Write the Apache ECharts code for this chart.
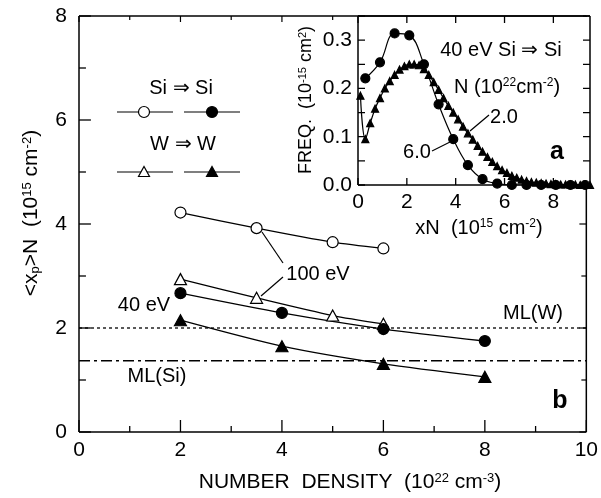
<!DOCTYPE html>
<html><head><meta charset="utf-8">
<script src="https://cdn.jsdelivr.net/npm/echarts@6/dist/echarts.min.js"></script>
<style>html,body{margin:0;padding:0;background:#fff}#c{width:601px;height:498px;background:#fff}</style>
</head><body><div id="c"></div>
<script>
const FONT = '"Liberation Sans", Arial, sans-serif';

// ---- panel b (main) ----
const densitySi100 = [2, 3.5, 5, 6];
const valuesSi100 = [4.22, 3.92, 3.65, 3.53];
const densityW100 = [2, 3.5, 5, 6];
const valuesW100 = [2.94, 2.58, 2.24, 2.08];
const densitySi40 = [2, 4, 6, 8];
const valuesSi40 = [2.67, 2.29, 1.98, 1.75];
const densityW40 = [2, 4, 6, 8];
const valuesW40 = [2.15, 1.65, 1.31, 1.06];
const mlW = 2.0;
const mlSi = 1.37;
const mainXRange = [0, 10];
const mainYRange = [0, 8];
const mainXMajor = [0, 2, 4, 6, 8, 10];
const mainXMinor = [1, 3, 5, 7, 9];
const mainYMajor = [0, 2, 4, 6, 8];
const mainYMinor = [1, 3, 5, 7];

// ---- panel a (inset) ----
const xnN6 = [0.3, 0.9, 1.5, 2.1, 2.7, 3.3, 3.9, 4.5, 5.1, 5.7, 6.3, 6.9, 7.5, 8.1, 8.7, 9.3];
const freqN6 = [0.221, 0.254, 0.314, 0.31, 0.25, 0.167, 0.095, 0.041, 0.012, 0.003, 0, 0, 0, 0, 0, 0];
const xnN2 = [0.1, 0.3, 0.5, 0.7, 0.9, 1.1, 1.3, 1.5, 1.7, 1.9, 2.1, 2.3, 2.5, 2.7, 2.9, 3.1, 3.3, 3.5, 3.7, 3.9,
  4.1, 4.3, 4.5, 4.7, 4.9, 5.1, 5.3, 5.5, 5.7, 5.9, 6.1, 6.3, 6.5, 6.7, 6.9, 7.1, 7.3, 7.5, 7.7, 7.9,
  8.1, 8.3, 8.5, 8.7, 8.9, 9.1, 9.3, 9.5];
const freqN2 = [0.185, 0.095, 0.128, 0.158, 0.18, 0.2, 0.215, 0.228, 0.239, 0.246, 0.25, 0.25, 0.248, 0.24, 0.228, 0.213, 0.197, 0.18, 0.164, 0.15,
  0.136, 0.121, 0.107, 0.094, 0.081, 0.069, 0.058, 0.048, 0.039, 0.031, 0.025, 0.019, 0.015, 0.011, 0.008, 0.006, 0.005, 0.004, 0.003, 0.002,
  0.002, 0.001, 0.001, 0.001, 0.001, 0, 0, 0];
const insetXRange = [0, 9.5];
const insetYRange = [0, 0.35];
const insetXTicks = [0, 2, 4, 6, 8];
const insetYTicks = [0, 0.05, 0.1, 0.15, 0.2, 0.25, 0.3, 0.35];
const insetYTickValues = [0, 0.1, 0.2, 0.3];
const insetYTickLabels = ['0.0', '0.1', '0.2', '0.3'];
const insetXTickValues = [0, 2, 4, 6, 8];
const insetXTickLabels = ['0', '2', '4', '6', '8'];

// grid geometry (pixels)
const MAIN = { left: 79, top: 16, width: 511, height: 416 };
const INSET = { left: 358, top: 16, width: 232, height: 169 };

const pairs = (xs, ys) => xs.map((x, i) => [x, ys[i]]);
const pick = (vals, labels) => v => {
  const i = vals.findIndex(t => Math.abs(t - v) < 1e-6);
  return i >= 0 ? labels[i] : '';
};
const richBase = (fs) => ({
  t: { fontSize: fs, fontFamily: FONT, color: '#000' },
  sup: { fontSize: Math.round(fs * 0.6), fontFamily: FONT, color: '#000', verticalAlign: 'top' },
  sub: { fontSize: Math.round(fs * 0.6), fontFamily: FONT, color: '#000', verticalAlign: 'bottom' }
});
const black = '#000';

function baseAxis(gridIndex, extra) {
  return Object.assign({
    gridIndex, type: 'value', splitLine: { show: false },
    axisLine: { show: false, onZero: false }, axisTick: { show: false }, minorTick: { show: false },
    axisLabel: { fontSize: 21, fontFamily: FONT, color: black }
  }, extra);
}

// frame & tick segments drawn as line series through the axes' scales
const frameSeries = [];
function seg(g, a, b, w, z) {
  frameSeries.push({
    type: 'line', data: [a, b], xAxisIndex: g === 0 ? 0 : 2, yAxisIndex: g === 0 ? 0 : 2,
    symbol: 'none', silent: true, clip: false, animation: false, z: z,
    lineStyle: { color: black, width: w }
  });
}
(function buildFrames() {
  const mx = (mainXRange[1] - mainXRange[0]) / MAIN.width;   // units per px
  const my = (mainYRange[1] - mainYRange[0]) / MAIN.height;
  const ix = (insetXRange[1] - insetXRange[0]) / INSET.width;
  const iy = (insetYRange[1] - insetYRange[0]) / INSET.height;
  const x0 = mainXRange[0], x1 = mainXRange[1], y0 = mainYRange[0], y1 = mainYRange[1];
  const insetStartX = x0 + (INSET.left - MAIN.left) * mx;
  const insetBottomY = y1 - (INSET.height + 2) * my;
  // main frame
  seg(0, [x0, y0], [x1, y0], 1.5, 4); seg(0, [x0, y0], [x0, y1], 1.5, 4);
  seg(0, [x0, y1], [x1, y1], 1.5, 4); seg(0, [x1, y0], [x1, y1], 1.5, 4);
  // main bottom & top ticks
  mainXMajor.forEach(v => { seg(0, [v, y0], [v, y0 + 12 * my], 1.3, 4); if (v < insetStartX) seg(0, [v, y1], [v, y1 - 6 * my], 1.2, 4); });
  mainXMinor.forEach(v => { seg(0, [v, y0], [v, y0 + 6 * my], 1.3, 4); if (v < insetStartX) seg(0, [v, y1], [v, y1 - 4 * my], 1.2, 4); });
  // main left & right ticks
  mainYMajor.forEach(v => { seg(0, [x0, v], [x0 + 12 * mx, v], 1.3, 4); if (v < insetBottomY) seg(0, [x1, v], [x1 - 7 * mx, v], 1.2, 4); });
  mainYMinor.forEach(v => { seg(0, [x0, v], [x0 + 7 * mx, v], 1.3, 4); if (v < insetBottomY) seg(0, [x1, v], [x1 - 5 * mx, v], 1.2, 4); });
  // inset frame
  const a0 = insetXRange[0], a1 = insetXRange[1], b0 = insetYRange[0], b1 = insetYRange[1];
  seg(1, [a0, b0], [a1, b0], 1.5, 14); seg(1, [a0, b0], [a0, b1], 1.5, 14);
  seg(1, [a0, b1], [a1, b1], 1.5, 14); seg(1, [a1, b0], [a1, b1], 1.5, 14);
  insetXTicks.forEach(v => { seg(1, [v, b0], [v, b0 + 7 * iy], 1.3, 14); seg(1, [v, b1], [v, b1 - 7 * iy], 1.3, 14); });
  insetYTicks.forEach(v => { seg(1, [a0, v], [a0 + 7 * ix, v], 1.3, 14); seg(1, [a1, v], [a1 - 7 * ix, v], 1.3, 14); });
})();

function T(x, y, text, fs, extra) {
  extra = extra || {};
  return {
    type: 'text', x: x, y: y, z: 20, rotation: extra.rotation || 0,
    style: Object.assign({
      text: text, fontSize: fs, fontFamily: FONT, fill: black,
      align: 'center', verticalAlign: 'middle', rich: richBase(fs)
    }, extra.style || {})
  };
}
function L(x1, y1, x2, y2) {
  return { type: 'line', z: 20, shape: { x1, y1, x2, y2 }, style: { stroke: black, lineWidth: 1.2 } };
}
function circ(cx, cy, r, filled) {
  return { type: 'circle', z: 21, shape: { cx, cy, r }, style: { fill: filled ? black : '#fff', stroke: black, lineWidth: 1.2 } };
}
function tri(cx, cy, filled) {
  return { type: 'polygon', z: 21, shape: { points: [[cx - 5.5, cy + 4.5], [cx + 5.5, cy + 4.5], [cx, cy - 5.5]] },
    style: { fill: filled ? black : '#fff', stroke: black, lineWidth: 1.2 } };
}

const lineSeries = (name, xs, ys, symbol, filled, size, extra) => Object.assign({
  name, type: 'line', data: pairs(xs, ys), smooth: 0.25,
  symbol, symbolSize: size, showSymbol: true,
  lineStyle: { color: black, width: 1.3 },
  itemStyle: { color: filled ? black : '#fff', borderColor: black, borderWidth: 1.2, opacity: 1 },
  xAxisIndex: 0, yAxisIndex: 0, z: 3, animation: false
}, extra || {});

const option = {
  animation: false,
  grid: [MAIN, INSET],
  xAxis: [
    baseAxis(0, { position: 'bottom', min: mainXRange[0], max: mainXRange[1], interval: 2,
      axisLabel: { fontSize: 21, fontFamily: FONT, color: black, margin: 8 } }),
    baseAxis(0, { position: 'top', min: mainXRange[0], max: mainXRange[1], interval: 2, axisLabel: { show: false } }),
    baseAxis(1, { position: 'bottom', min: insetXRange[0], max: insetXRange[1], interval: 2, z: 10,
      axisLabel: { fontSize: 21, fontFamily: FONT, color: black, margin: 7,
        formatter: pick(insetXTickValues, insetXTickLabels) } }),
    baseAxis(1, { position: 'top', min: insetXRange[0], max: insetXRange[1], interval: 2, axisLabel: { show: false } })
  ],
  yAxis: [
    baseAxis(0, { position: 'left', min: mainYRange[0], max: mainYRange[1], interval: 2,
      axisLabel: { fontSize: 21, fontFamily: FONT, color: black, margin: 12 } }),
    baseAxis(0, { position: 'right', min: mainYRange[0], max: mainYRange[1], interval: 2, axisLabel: { show: false } }),
    baseAxis(1, { position: 'left', min: insetYRange[0], max: insetYRange[1], interval: 0.05, z: 10,
      axisLabel: { fontSize: 21, fontFamily: FONT, color: black, margin: 6,
        formatter: pick(insetYTickValues, insetYTickLabels) } }),
    baseAxis(1, { position: 'right', min: insetYRange[0], max: insetYRange[1], interval: 0.05, axisLabel: { show: false } })
  ],
  series: [
    { name: 'ML(W)', type: 'line', data: pairs(mainXRange, [mlW, mlW]), symbol: 'none', silent: true,
      lineStyle: { color: black, width: 1.3, type: [3, 3] }, xAxisIndex: 0, yAxisIndex: 0, z: 2 },
    { name: 'ML(Si)', type: 'line', data: pairs(mainXRange, [mlSi, mlSi]), symbol: 'none', silent: true,
      lineStyle: { color: black, width: 1.3, type: [11, 4, 3, 4] }, xAxisIndex: 0, yAxisIndex: 0, z: 2 },
    lineSeries('Si 100 eV', densitySi100, valuesSi100, 'circle', false, 11),
    lineSeries('W 100 eV', densityW100, valuesW100, 'triangle', false, [12, 11]),
    lineSeries('Si 40 eV', densitySi40, valuesSi40, 'circle', true, 11),
    lineSeries('W 40 eV', densityW40, valuesW40, 'triangle', true, [12, 11]),
    lineSeries('N=2.0', xnN2, freqN2, 'triangle', true, [7, 7], { xAxisIndex: 2, yAxisIndex: 2, z: 11, smooth: 0.4,
      lineStyle: { color: black, width: 1.2 } }),
    lineSeries('N=6.0', xnN6, freqN6, 'circle', true, 9, { xAxisIndex: 2, yAxisIndex: 2, z: 12, smooth: 0.4,
      lineStyle: { color: black, width: 1.2 } })
  ].concat(frameSeries),
  graphic: [
    { type: 'rect', z: 5, shape: { x: INSET.left + 1, y: INSET.top + 1, width: INSET.width - 2, height: INSET.height - 2 }, style: { fill: '#fff' } },
    T(350, 482, '{t|NUMBER  DENSITY  (10}{sup|22}{t| cm}{sup|-3}{t|)}', 21),
    T(31, 213, '{t|<x}{sub|p}{t|>N  (10}{sup|15}{t| cm}{sup|-2}{t|)}', 21, { rotation: Math.PI / 2 }),
    T(479, 228, '{t|xN  (10}{sup|15}{t| cm}{sup|-2}{t|)}', 20),
    T(306, 100, '{t|FREQ.  (10}{sup|-15}{t| cm}{sup|2}{t|)}', 18, { rotation: Math.PI / 2 }),
    T(181, 88, 'Si ⇒ Si', 20),
    L(117, 112, 173, 112), circ(144, 112, 5.5, false),
    L(184, 112, 240, 112), circ(212, 112, 5.5, true),
    T(183, 144, 'W ⇒ W', 20),
    L(117, 172, 173, 172), tri(144, 172, false),
    L(184, 172, 240, 172), tri(212, 172, true),
    T(318, 274, '100 eV', 20),
    L(262, 232, 283, 263), L(283, 277, 261, 296),
    T(144, 305, '40 eV', 20),
    T(533, 313, 'ML(W)', 20),
    T(157, 376, 'ML(Si)', 20),
    T(560, 401, 'b', 25, { style: { fontWeight: 'bold' } }),
    T(501, 50, '40 eV Si ⇒ Si', 20),
    T(507, 87, '{t|N (10}{sup|22}{t|cm}{sup|-2}{t|)}', 20),
    T(504, 117, '2.0', 20), L(489, 115, 470, 131),
    T(417, 152, '6.0', 20), L(432, 151, 452, 141),
    T(557, 152, 'a', 25, { style: { fontWeight: 'bold' } })
  ]
};

const chart = echarts.init(document.getElementById('c'));
chart.setOption(option);
</script>
</body></html>
